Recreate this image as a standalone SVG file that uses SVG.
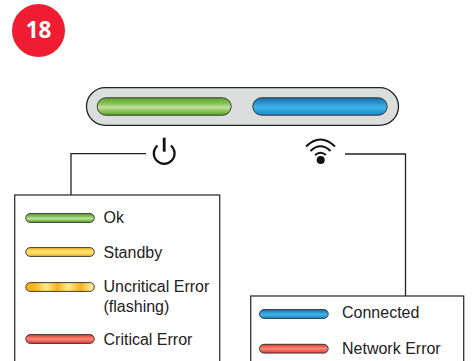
<svg xmlns="http://www.w3.org/2000/svg" width="475" height="361" viewBox="0 0 475 361">
<defs>
<linearGradient id="gG" x1="0" y1="0" x2="0" y2="1"><stop offset="0" stop-color="#5ea52e"/><stop offset=".3" stop-color="#80bf4e"/><stop offset=".55" stop-color="#c2e09c"/><stop offset=".8" stop-color="#80bf4e"/><stop offset="1" stop-color="#5ea52e"/></linearGradient>
<linearGradient id="gB" x1="0" y1="0" x2="0" y2="1"><stop offset="0" stop-color="#1470b0"/><stop offset=".55" stop-color="#40b4ea"/><stop offset="1" stop-color="#1b88ca"/></linearGradient>
<linearGradient id="gY" x1="0" y1="0" x2="0" y2="1"><stop offset="0" stop-color="#f8b81c"/><stop offset=".5" stop-color="#ffe680"/><stop offset="1" stop-color="#f8b81c"/></linearGradient>
<linearGradient id="gR" x1="0" y1="0" x2="0" y2="1"><stop offset="0" stop-color="#e2392e"/><stop offset=".5" stop-color="#f98a78"/><stop offset="1" stop-color="#e2392e"/></linearGradient>
<linearGradient id="gF" x1="0" y1="0" x2="1" y2="0"><stop offset="0" stop-color="#f9b41a"/><stop offset=".12" stop-color="#f9b41a"/><stop offset=".3" stop-color="#ffe890"/><stop offset=".46" stop-color="#f9b41a"/><stop offset=".62" stop-color="#ffe890"/><stop offset=".8" stop-color="#f9b41a"/><stop offset=".95" stop-color="#ffe890"/></linearGradient>
</defs>
<style>
.led{stroke:#2b2b2b;stroke-width:.9}
.box{fill:#fff;stroke:#333;stroke-width:1.3}
.wire{fill:none;stroke:#222;stroke-width:1.3}
text{font-family:"Liberation Sans",Arial,sans-serif;font-size:16px;fill:#222}
</style>
<g id="badge"><circle cx="38.500" cy="30.500" r="26.500" fill="#ef1c32"/><text x="38.500" y="38" text-anchor="middle" style="font-family:'Open Sans',sans-serif;font-size:22.500px;font-weight:700;fill:#fff">18</text></g>
<g id="connectors">
<path class="wire" d="M146 153.700H71V195"/>
<path class="wire" d="M345 154H405.500V296"/>
</g>
<g id="panel">
<rect x="86.500" y="87.700" width="312" height="37.600" rx="18.800" fill="#dcdddd" stroke="#222" stroke-width="1.300"/>
<rect x="97.200" y="97.800" width="134" height="17.400" rx="8.700" fill="url(#gG)" class="led"/>
<rect x="252.800" y="97.800" width="134.400" height="17.400" rx="8.700" fill="url(#gB)" class="led"/>
</g>
<g id="power-icon" fill="none" stroke="#111">
<path d="M157.500 145.500A10.400 10.400 0 1 0 170.900 145.500" stroke-width="2.200"/>
<path d="M164.200 137.700V151.700" stroke-width="2.800"/>
</g>
<g id="wifi-icon" fill="none" stroke="#111">
<path d="M306 146.500Q320.500 132.500 335 146.500" stroke-width="2"/>
<path d="M310.500 151Q320.500 141.500 330.500 151" stroke-width="2"/>
<path d="M315 155Q320.500 150.500 326 155" stroke-width="2"/>
<circle cx="320.700" cy="160" r="4" fill="#111" stroke="none"/>
</g>
<g id="legend-power">
<rect class="box" x="14.700" y="195" width="205" height="175"/>
<rect x="25.800" y="213.600" width="68.500" height="8.800" rx="4.400" fill="url(#gG)" class="led"/>
<text x="103.500" y="222.500">Ok</text>
<rect x="25.800" y="247.600" width="68.500" height="8.800" rx="4.400" fill="url(#gY)" class="led"/>
<text x="103.500" y="258.300">Standby</text>
<rect x="25.800" y="282.600" width="68.500" height="8.800" rx="4.400" fill="url(#gF)" class="led"/>
<text x="103.500" y="292">Uncritical Error</text>
<text x="103.500" y="312">(flashing)</text>
<rect x="25.800" y="334.600" width="68.500" height="8.800" rx="4.400" fill="url(#gR)" class="led"/>
<text x="103.500" y="345">Critical Error</text>
</g>
<g id="legend-network">
<rect class="box" x="250.700" y="296" width="213" height="75"/>
<rect x="259.500" y="309.600" width="68.700" height="8.800" rx="4.400" fill="url(#gB)" class="led"/>
<text x="342" y="318">Connected</text>
<rect x="259.500" y="344.300" width="68.700" height="8.800" rx="4.400" fill="url(#gR)" class="led"/>
<text x="342" y="354">Network Error</text>
</g>
</svg>
